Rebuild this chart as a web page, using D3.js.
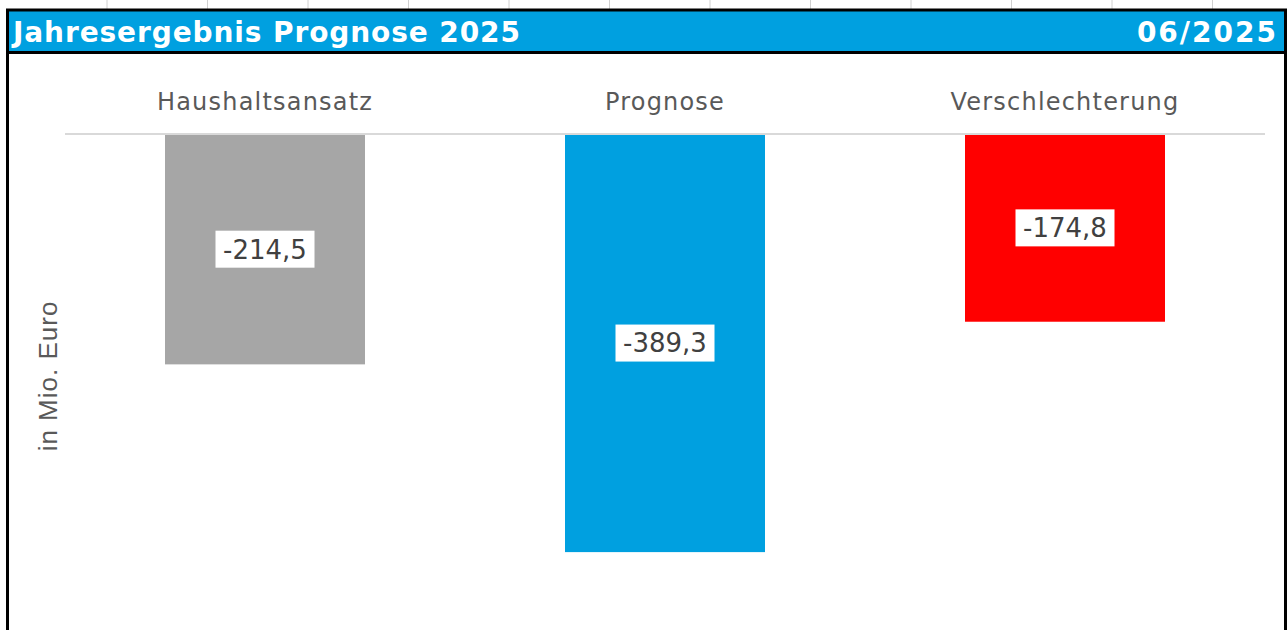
<!DOCTYPE html>
<html>
<head>
<meta charset="utf-8">
<script src="https://cdn.jsdelivr.net/npm/d3@7"></script>
<style>
  body { margin: 0; background: #fff; }
</style>
</head>
<body>
<script>
var categories = ["Haushaltsansatz", "Prognose", "Verschlechterung"];
var values = [-214.5, -389.3, -174.8];
var barColors = ["#a6a6a6", "#00a0e0", "#ff0000"];
var title = "Jahresergebnis Prognose 2025";
var period = "06/2025";
var yTitle = "in Mio. Euro";

var w = 1287, h = 630;
var svg = d3.select("body").append("svg")
  .attr("width", w)
  .attr("height", h);

// little grid ticks above the frame (sheet columns)
var cols = d3.range(0, 12);
svg.selectAll("line.col")
  .data(cols)
  .enter()
  .append("line")
  .attr("x1", function(d) { return 107 + d * 100.5; })
  .attr("x2", function(d) { return 107 + d * 100.5; })
  .attr("y1", 0)
  .attr("y2", 9)
  .attr("stroke", "#d0d0d0")
  .attr("stroke-width", 1);

// title bar
svg.append("rect")
  .attr("x", 7).attr("y", 10)
  .attr("width", 1278).attr("height", 42)
  .attr("fill", "#00a0e0");

svg.append("text")
  .text(title)
  .attr("x", 13).attr("y", 42)
  .attr("font-family", "DejaVu Sans, Verdana, sans-serif")
  .attr("font-weight", "bold")
  .attr("font-size", "28px")
  .attr("letter-spacing", "0.9px")
  .attr("fill", "white");

svg.append("text")
  .text(period)
  .attr("x", 1278).attr("y", 42)
  .attr("text-anchor", "end")
  .attr("font-family", "DejaVu Sans, Verdana, sans-serif")
  .attr("font-weight", "bold")
  .attr("font-size", "28px")
  .attr("letter-spacing", "2px")
  .attr("fill", "white");

// frame
svg.append("path")
  .attr("d", "M7.5,640 V10 H1285.5 V640")
  .attr("fill", "none")
  .attr("stroke", "black")
  .attr("stroke-width", 3);
svg.append("line")
  .attr("x1", 7).attr("x2", 1286)
  .attr("y1", 52.5).attr("y2", 52.5)
  .attr("stroke", "black")
  .attr("stroke-width", 3);

// scales
var x = d3.scaleBand()
  .domain(categories)
  .range([65, 1265])
  .paddingInner(0.5)
  .paddingOuter(0.25);

var y = d3.scaleLinear()
  .domain([0, -400])
  .range([134, 563.6]);

// category axis on top, at zero
var xAxis = d3.axisTop(x).tickSize(0).tickPadding(0);
var gx = svg.append("g")
  .attr("transform", "translate(0,110)")
  .call(xAxis);
gx.select(".domain").remove();
gx.selectAll("text")
  .attr("font-family", "DejaVu Sans, Verdana, sans-serif")
  .attr("font-size", "24px")
  .attr("letter-spacing", "1.2px")
  .attr("fill", "#595959")
  .attr("dy", "0");

svg.append("line")
  .attr("x1", 65).attr("x2", 1265)
  .attr("y1", y(0)).attr("y2", y(0))
  .attr("stroke", "#d9d9d9")
  .attr("stroke-width", 2);

// bars
svg.selectAll("rect.bar")
  .data(values)
  .enter()
  .append("rect")
  .attr("class", "bar")
  .attr("x", function(d, i) { return x(categories[i]); })
  .attr("y", y(0) + 1)
  .attr("width", x.bandwidth())
  .attr("height", function(d) { return y(d) - y(0) - 1; })
  .attr("fill", function(d, i) { return barColors[i]; });

// value labels
var fmt = function(d) { return d3.format(".1f")(d).replace(".", ",").replace("−", "-"); };
var lab = svg.selectAll("g.lab")
  .data(values)
  .enter()
  .append("g")
  .attr("class", "lab")
  .attr("transform", function(d, i) {
    return "translate(" + (x(categories[i]) + x.bandwidth() / 2) + "," + ((y(0) + y(d)) / 2) + ")";
  });
lab.append("rect")
  .attr("x", -49.5).attr("y", -18.5)
  .attr("width", 99).attr("height", 37)
  .attr("fill", "white");
lab.append("text")
  .text(fmt)
  .attr("text-anchor", "middle")
  .attr("dy", "0.36em")
  .attr("font-family", "DejaVu Sans, Verdana, sans-serif")
  .attr("font-size", "26px")
  .attr("fill", "#404040");

// y title
svg.append("text")
  .text(yTitle)
  .attr("transform", "translate(57,376) rotate(-90)")
  .attr("text-anchor", "middle")
  .attr("font-family", "Liberation Sans, Arial, sans-serif")
  .attr("font-size", "26px")
  .attr("letter-spacing", "1px")
  .attr("fill", "#595959");
</script>
</body>
</html>
